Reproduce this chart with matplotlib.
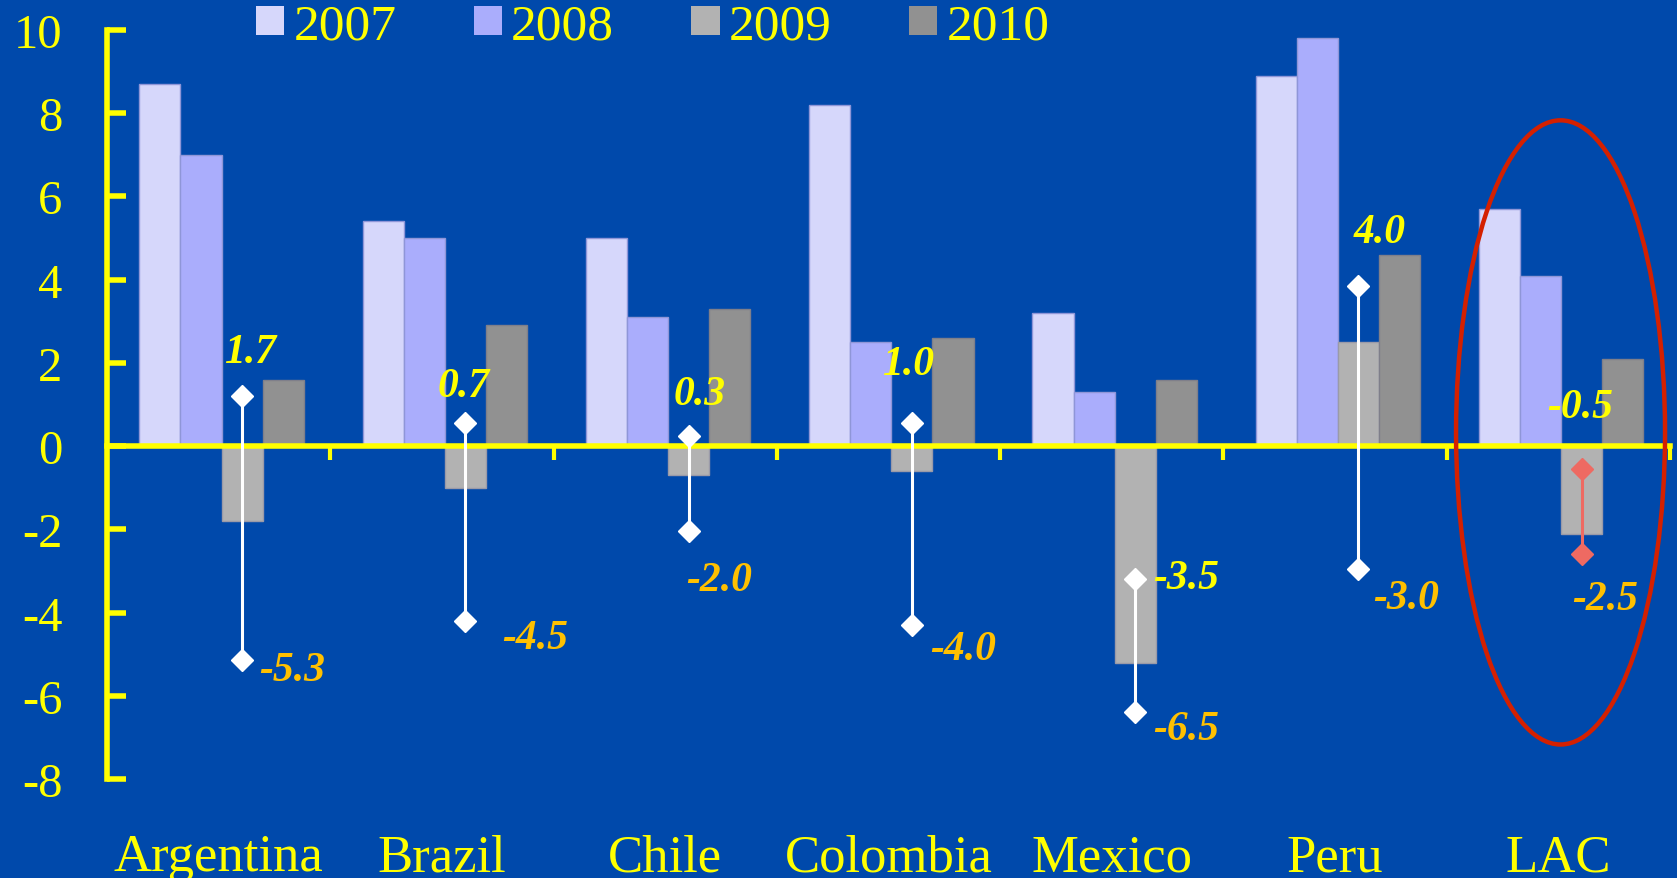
import numpy as np
import matplotlib
matplotlib.use("Agg")
import matplotlib.pyplot as plt
from matplotlib.patches import Ellipse

plt.rcParams['font.family'] = ['Liberation Serif', 'DejaVu Serif']
plt.rcParams['axes.unicode_minus'] = False

# GDP growth by country and year (%)
countries = ['Argentina', 'Brazil', 'Chile', 'Colombia', 'Mexico', 'Peru', 'LAC']
years = ['2007', '2008', '2009', '2010']
gdp_2007 = [8.7, 5.4, 5.0, 8.2, 3.2, 8.9, 5.7]
gdp_2008 = [7.0, 5.0, 3.1, 2.5, 1.3, 9.8, 4.1]
gdp_2009 = [-1.8, -1.0, -0.7, -0.6, -5.2, 2.5, -2.1]
gdp_2010 = [1.6, 2.9, 3.3, 2.6, 1.6, 4.6, 2.1]

# 2009 forecast range (marker positions as drawn, and printed labels)
range_high = [1.2, 0.55, 0.25, 0.55, -3.2, 3.85, -0.55]
range_low = [-5.15, -4.2, -2.05, -4.3, -6.4, -2.95, -2.6]
label_high = ['1.7', '0.7', '0.3', '1.0', '-3.5', '4.0', '-0.5']
label_low = ['-5.3', '-4.5', '-2.0', '-4.0', '-6.5', '-3.0', '-2.5']

yticks = [-8, -6, -4, -2, 0, 2, 4, 6, 8, 10]

# label offsets in points (hand placed in the original slide)
off_high = [(6, 32), (-1, 27), (8, 30), (-3, 43), (37, 1), (15, 39), (-1, 45)]
off_low = [(36, -7), (50, -12), (22, -35), (37, -17), (37, -12), (34, -21), (17, -32)]

BG = '#0049AB'
YELLOW = '#FFFF00'
GOLD = '#FFC000'
bar_colors = ['#D6D7FB', '#AAADFC', '#B2B2B2', '#919191']
bar_edges = ['#8F96D8', '#8F96D8', '#9A9AA8', '#7F7F8A']

fig = plt.figure(figsize=(16.77, 8.79), dpi=100, facecolor=BG)
ax = fig.add_axes([0.0638, 0.1126, 0.9320, 0.8521], facecolor=BG)

x = np.arange(len(countries))
w = 0.184
shift = 0.013
series = [gdp_2007, gdp_2008, gdp_2009, gdp_2010]
for j, vals in enumerate(series):
    ax.bar(x + (j - 1.5) * w + shift, vals, w, color=bar_colors[j],
           edgecolor=bar_edges[j], linewidth=1, label=years[j], zorder=2)

# forecast range lines with diamonds on the 2009 bar
xr = x + 0.5 * w + shift
for i in range(len(countries)):
    c = '#EE6A62' if countries[i] == 'LAC' else 'white'
    ax.plot([xr[i], xr[i]], [range_low[i], range_high[i]], color=c, lw=2.2,
            marker='D', markersize=11, markerfacecolor=c, markeredgecolor=c,
            zorder=4)
    top_c = YELLOW
    ax.annotate(label_high[i], (xr[i], range_high[i]), xytext=off_high[i],
                textcoords='offset points', ha='center', va='center',
                fontsize=30, fontweight='bold', fontstyle='italic',
                color=top_c, zorder=5)
    ax.annotate(label_low[i], (xr[i], range_low[i]), xytext=off_low[i],
                textcoords='offset points', ha='center', va='center',
                fontsize=30, fontweight='bold', fontstyle='italic',
                color=GOLD, zorder=5)

# red ellipse around LAC
ell = Ellipse((6.01, 0.33), 0.936, 15.0, fill=False, edgecolor='#D42000',
              linewidth=3.2, clip_on=False, zorder=6)
ax.add_patch(ell)

ax.set_xlim(-0.5, 6.5)
ax.set_ylim(-8, 10)

for s in ['top', 'right']:
    ax.spines[s].set_visible(False)
ax.spines['left'].set_color(YELLOW)
ax.spines['left'].set_linewidth(4)
ax.spines['bottom'].set_position(('data', 0))
ax.spines['bottom'].set_color(YELLOW)
ax.spines['bottom'].set_linewidth(4)
ax.spines['bottom'].set_zorder(3)

ax.set_yticks(yticks)
ax.set_yticklabels([str(v) for v in yticks])
ax.tick_params(axis='y', direction='in', length=13.5, width=4, color=YELLOW,
               labelcolor=YELLOW, labelsize=35, pad=32)
ax.set_xticks(np.arange(0.5, len(countries), 1.0))
ax.set_xticklabels([])
ax.tick_params(axis='x', direction='out', length=10, width=3, color=YELLOW)

for i, name in enumerate(countries):
    ax.text(x[i], -0.1215, name, transform=ax.get_xaxis_transform(),
            ha='center', va='baseline', fontsize=38, color=YELLOW)

leg = fig.legend(loc='center left', bbox_to_anchor=(0.1527, 0.969), ncol=4,
                 frameon=False, fontsize=37, handlelength=0.55,
                 handleheight=0.5, handletextpad=0.18, columnspacing=1.5,
                 borderpad=0, borderaxespad=0)
for t in leg.get_texts():
    t.set_color(YELLOW)
for h in leg.legend_handles:
    h.set_edgecolor('none')

fig.savefig('out.png', dpi=100, facecolor=BG)
